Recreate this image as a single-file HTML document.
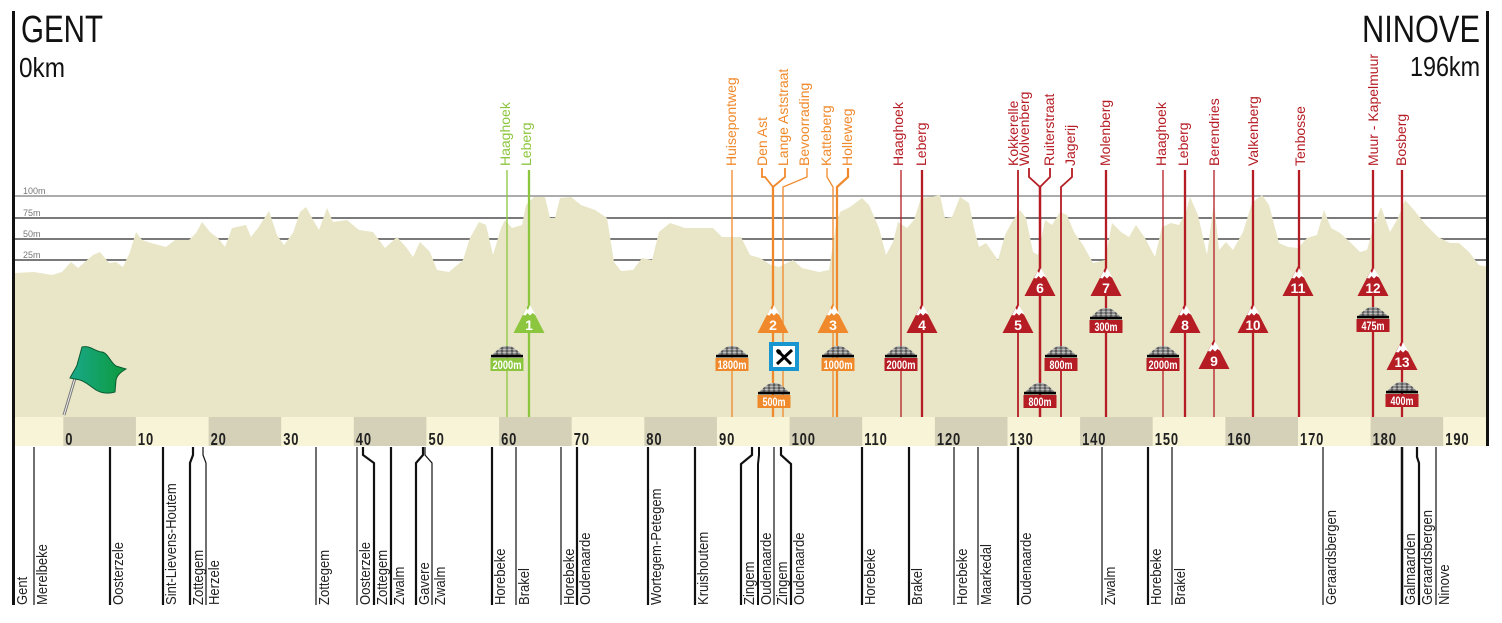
<!DOCTYPE html>
<html><head><meta charset="utf-8"><style>
html,body{margin:0;padding:0;background:#fff;}
svg{display:block;}
</style></head><body>
<svg width="1502" height="623" viewBox="0 0 1502 623" xmlns="http://www.w3.org/2000/svg" font-family="'Liberation Sans', sans-serif">
<defs>
<pattern id="cob" width="5" height="3" patternUnits="userSpaceOnUse"><rect width="5" height="3" fill="#555"/><ellipse cx="2.5" cy="1.5" rx="2" ry="1.1" fill="#bdbdbd"/></pattern>
<g id="dome"><path d="M-16,0 L-12,-5 L-7,-9 L-3,-11 L3,-11 L7,-9 L12,-5 L16,0Z" fill="url(#cob)"/><rect x="-16" y="-2.2" width="32" height="2.6" fill="#000"/></g>
<g id="tri"><path d="M0,0 L15.5,30 L-15.5,30Z"/><path d="M-6,12 L-2.5,5 L-1,7 L1,2 L5,9 L6.5,12 L3.5,10 L1,12.5 L-1.5,10 L-3.5,12.5Z" fill="#fff"/></g>
<linearGradient id="fg" x1="0" y1="0" x2="1" y2="0"><stop offset="0" stop-color="#1aa88a"/><stop offset="1" stop-color="#0c9a3c"/></linearGradient>
</defs>
<rect width="1502" height="623" fill="#fff"/>

<!-- grid lines -->
<line x1="15" y1="196" x2="1487" y2="196" stroke="#7a7a7a" stroke-width="1.3"/>
<line x1="15" y1="218" x2="1487" y2="218" stroke="#7a7a7a" stroke-width="2"/>
<line x1="15" y1="239" x2="1487" y2="239" stroke="#7a7a7a" stroke-width="2"/>
<line x1="15" y1="260" x2="1487" y2="260" stroke="#7a7a7a" stroke-width="2"/>

<!-- profile -->
<polygon fill="#e8e6c6" points="15,417 15,273 34,272 52,275 62,272 71,262 78,268 93,255 100,252 109,263 116,262 123,267 130,252 136,232 142,240 151,243 166,247 175,240 189,240 196,233 202,222 210,232 218,238 225,247 232,228 246,225 251,237 258,228 269,211 277,235 284,245 293,233 300,212 306,207 312,218 319,230 327,208 333,222 347,220 359,230 373,232 385,248 397,237 406,247 413,257 420,242 430,252 437,270 449,272 463,260 470,238 479,222 486,225 493,255 501,228 505,220 512,228 522,225 526,205 534,197 545,197 550,218 555,218 560,198 571,197 581,205 595,210 607,218 614,262 621,271 633,270 642,258 652,260 659,232 670,223 685,228 699,228 713,228 722,237 741,237 750,255 760,258 771,265 779,267 793,260 802,268 819,272 829,270 836,225 840,212 850,207 862,198 869,205 879,228 886,255 893,242 898,222 907,228 914,220 921,198 931,197 940,195 945,218 952,217 960,197 969,203 974,228 979,247 986,243 998,260 1005,235 1012,222 1020,210 1026,218 1033,252 1038,255 1045,220 1052,225 1060,212 1067,215 1074,232 1083,245 1093,263 1105,260 1112,223 1121,232 1129,237 1136,225 1145,238 1155,257 1162,227 1171,223 1179,225 1186,212 1190,197 1198,215 1207,255 1214,202 1219,250 1226,242 1233,250 1243,232 1252,203 1262,195 1269,205 1279,243 1288,247 1298,248 1307,238 1317,235 1324,210 1331,228 1340,233 1350,242 1360,252 1367,250 1374,225 1381,207 1390,232 1398,218 1405,200 1414,210 1426,225 1438,237 1450,243 1459,243 1469,252 1479,265 1488,267 1488,417"/>

<!-- grid labels -->
<g font-size="9" fill="#777">
<text x="23" y="194">100m</text>
<text x="23" y="216">75m</text>
<text x="23" y="237">50m</text>
<text x="23" y="258">25m</text>
</g>

<!-- titles -->
<text x="21" y="42" font-size="38" fill="#111" textLength="82" lengthAdjust="spacingAndGlyphs">GENT</text>
<text x="19" y="77" font-size="28" fill="#111" textLength="46" lengthAdjust="spacingAndGlyphs">0km</text>
<text x="1362" y="42" font-size="38" fill="#111" textLength="118" lengthAdjust="spacingAndGlyphs">NINOVE</text>
<text x="1410" y="76" font-size="28" fill="#111" textLength="70" lengthAdjust="spacingAndGlyphs">196km</text>

<!-- GREEN markers -->
<g stroke="#8cc63e" fill="none">
<line x1="507" y1="170" x2="507" y2="417" stroke-width="1.3"/>
<line x1="529" y1="170" x2="529" y2="417" stroke-width="2.3"/>
</g>
<g font-size="14" fill="#8cc63e">
<text transform="translate(510,166) rotate(-90)">Haaghoek</text>
<text transform="translate(531,166) rotate(-90)">Leberg</text>
</g>

<!-- ORANGE markers -->
<g stroke="#f0892b" fill="none">
<line x1="732" y1="170" x2="732" y2="417" stroke-width="1.3"/>
<path d="M762,168 V177 H765 L773,187" stroke-width="1.8"/>
<path d="M785,168 V177 L773,187" stroke-width="1.8"/>
<line x1="773" y1="186" x2="773" y2="417" stroke-width="2.3"/>
<path d="M807,168 V177 L783,187 V417" stroke-width="1.3"/>
<path d="M827,168 V177 L833,187 V417" stroke-width="1.3"/>
<path d="M848,168 V177 L837,187 V417" stroke-width="2.2"/>
</g>
<g font-size="14" fill="#f0892b">
<text transform="translate(736,166) rotate(-90)">Huisepontweg</text>
<text transform="translate(767,166) rotate(-90)">Den Ast</text>
<text transform="translate(788,166) rotate(-90)">Lange Aststraat</text>
<text transform="translate(809,166) rotate(-90)">Bevoorrading</text>
<text transform="translate(831,166) rotate(-90)">Katteberg</text>
<text transform="translate(852,166) rotate(-90)">Holleweg</text>
</g>

<!-- RED markers -->
<g stroke="#b51c24" fill="none">
<line x1="901" y1="170" x2="901" y2="417" stroke-width="1.3"/>
<line x1="922" y1="170" x2="922" y2="417" stroke-width="2.3"/>
<line x1="1018" y1="170" x2="1018" y2="417" stroke-width="1.8"/>
<path d="M1029,168 V177 L1040,187" stroke-width="1.8"/>
<path d="M1050,168 V177 L1040,187" stroke-width="1.8"/>
<line x1="1040" y1="186" x2="1040" y2="417" stroke-width="2.5"/>
<path d="M1072,168 V177 L1061,187 V417" stroke-width="1.8"/>
<line x1="1106" y1="170" x2="1106" y2="417" stroke-width="2.3"/>
<line x1="1163" y1="170" x2="1163" y2="417" stroke-width="1.3"/>
<line x1="1185" y1="170" x2="1185" y2="417" stroke-width="2.3"/>
<line x1="1214" y1="170" x2="1214" y2="417" stroke-width="1.3"/>
<line x1="1253" y1="170" x2="1253" y2="417" stroke-width="2.3"/>
<line x1="1299" y1="170" x2="1299" y2="417" stroke-width="2.3"/>
<line x1="1373" y1="170" x2="1373" y2="417" stroke-width="2.3"/>
<line x1="1402" y1="170" x2="1402" y2="417" stroke-width="2.3"/>
</g>
<g font-size="14" fill="#b51c24">
<text transform="translate(903,166) rotate(-90)">Haaghoek</text>
<text transform="translate(926,166) rotate(-90)">Leberg</text>
<text transform="translate(1018,166) rotate(-90)">Kokkerelle</text>
<text transform="translate(1029,166) rotate(-90)">Wolvenberg</text>
<text transform="translate(1054,166) rotate(-90)">Ruiterstraat</text>
<text transform="translate(1075,166) rotate(-90)">Jagerij</text>
<text transform="translate(1110,166) rotate(-90)">Molenberg</text>
<text transform="translate(1166,166) rotate(-90)">Haaghoek</text>
<text transform="translate(1188,166) rotate(-90)">Leberg</text>
<text transform="translate(1219,166) rotate(-90)">Berendries</text>
<text transform="translate(1258,166) rotate(-90)">Valkenberg</text>
<text transform="translate(1305,166) rotate(-90)">Tenbosse</text>
<text transform="translate(1378,166) rotate(-90)">Muur - Kapelmuur</text>
<text transform="translate(1406,166) rotate(-90)">Bosberg</text>
</g>

<!-- climb triangles -->
<use href="#tri" x="529" y="303" fill="#8cc63e"/>
<use href="#tri" x="773" y="303" fill="#f0892b"/>
<use href="#tri" x="833" y="303" fill="#f0892b"/>
<g fill="#b51c24">
<use href="#tri" x="922" y="303"/>
<use href="#tri" x="1018" y="303"/>
<use href="#tri" x="1040" y="266"/>
<use href="#tri" x="1106" y="266"/>
<use href="#tri" x="1185" y="303"/>
<use href="#tri" x="1214" y="339"/>
<use href="#tri" x="1253" y="303"/>
<use href="#tri" x="1298" y="266"/>
<use href="#tri" x="1373" y="266"/>
<use href="#tri" x="1402" y="340"/>
</g>
<g font-size="14" font-weight="bold" fill="#fff" text-anchor="middle">
<text x="529" y="330">1</text>
<text x="773" y="330">2</text>
<text x="833" y="330">3</text>
<text x="922" y="330">4</text>
<text x="1018" y="330">5</text>
<text x="1040" y="293">6</text>
<text x="1106" y="293">7</text>
<text x="1185" y="330">8</text>
<text x="1214" y="366">9</text>
<text x="1253" y="330" textLength="15" lengthAdjust="spacingAndGlyphs">10</text>
<text x="1298" y="293" textLength="15" lengthAdjust="spacingAndGlyphs">11</text>
<text x="1373" y="293" textLength="15" lengthAdjust="spacingAndGlyphs">12</text>
<text x="1402" y="367" textLength="15" lengthAdjust="spacingAndGlyphs">13</text>
</g>

<!-- cobbles -->
<use href="#dome" x="507" y="357"/>
<use href="#dome" x="732" y="357"/>
<use href="#dome" x="774" y="394"/>
<use href="#dome" x="838" y="357"/>
<use href="#dome" x="901" y="357"/>
<use href="#dome" x="1040" y="394"/>
<use href="#dome" x="1061" y="357"/>
<use href="#dome" x="1106" y="319"/>
<use href="#dome" x="1163" y="357"/>
<use href="#dome" x="1373" y="318"/>
<use href="#dome" x="1402" y="393"/>
<rect x="490.5" y="358" width="33" height="13" fill="#8cc63e"/>
<rect x="715.5" y="358" width="33" height="13" fill="#f0892b"/>
<rect x="757.5" y="395" width="33" height="13" fill="#f0892b"/>
<rect x="821.5" y="358" width="33" height="13" fill="#f0892b"/>
<g fill="#b51c24">
<rect x="884.5" y="358" width="33" height="13"/>
<rect x="1023.5" y="395" width="33" height="13"/>
<rect x="1044.5" y="358" width="33" height="13"/>
<rect x="1089.5" y="320" width="33" height="13"/>
<rect x="1146.5" y="358" width="33" height="13"/>
<rect x="1356.5" y="319" width="33" height="13"/>
<rect x="1385.5" y="394" width="33" height="13"/>
</g>
<g font-size="12" font-weight="bold" fill="#fff" text-anchor="middle" lengthAdjust="spacingAndGlyphs">
<text x="507" y="369" textLength="29" lengthAdjust="spacingAndGlyphs">2000m</text>
<text x="732" y="369" textLength="29" lengthAdjust="spacingAndGlyphs">1800m</text>
<text x="774" y="406" textLength="23" lengthAdjust="spacingAndGlyphs">500m</text>
<text x="838" y="369" textLength="29" lengthAdjust="spacingAndGlyphs">1000m</text>
<text x="901" y="369" textLength="29" lengthAdjust="spacingAndGlyphs">2000m</text>
<text x="1040" y="406" textLength="23" lengthAdjust="spacingAndGlyphs">800m</text>
<text x="1061" y="369" textLength="23" lengthAdjust="spacingAndGlyphs">800m</text>
<text x="1106" y="331" textLength="23" lengthAdjust="spacingAndGlyphs">300m</text>
<text x="1163" y="369" textLength="29" lengthAdjust="spacingAndGlyphs">2000m</text>
<text x="1373" y="330" textLength="23" lengthAdjust="spacingAndGlyphs">475m</text>
<text x="1402" y="405" textLength="23" lengthAdjust="spacingAndGlyphs">400m</text>
</g>

<!-- feed zone -->
<rect x="771" y="344" width="26" height="25" fill="#fff" stroke="#1996d2" stroke-width="4"/>
<path d="M777,350 L791,364 M792,350 L777,364" stroke="#000" stroke-width="3"/>
<ellipse cx="779" cy="352" rx="3.2" ry="2.2" transform="rotate(45 779 352)" fill="#000"/>

<!-- flag -->
<line x1="64" y1="415" x2="84" y2="348" stroke="#777" stroke-width="3"/>
<line x1="64" y1="415" x2="84" y2="348" stroke="#eee" stroke-width="1"/>
<path d="M82,347 C90,345 96,352 102,352 C108,353 110,362 116,366 L126,369 C121,372 117,375 116,380 L115,392 C108,394 101,393 96,390 C90,386 86,382 80,380 L70,378 C73,372 76,368 77,365 Z" fill="url(#fg)" stroke="#0b5a32" stroke-width="1"/>

<!-- km axis bar -->
<rect x="15" y="417" width="1471" height="29" fill="#f8f4d7"/>
<g fill="#d5d1b9">
<rect x="63.3" y="417" width="72.6" height="29"/>
<rect x="208.6" y="417" width="72.6" height="29"/>
<rect x="353.8" y="417" width="72.6" height="29"/>
<rect x="499.1" y="417" width="72.6" height="29"/>
<rect x="644.3" y="417" width="72.6" height="29"/>
<rect x="789.6" y="417" width="72.6" height="29"/>
<rect x="934.9" y="417" width="72.6" height="29"/>
<rect x="1080.1" y="417" width="72.6" height="29"/>
<rect x="1225.4" y="417" width="72.6" height="29"/>
<rect x="1370.6" y="417" width="72.6" height="29"/>
</g>
<g font-size="18" font-weight="bold" fill="#222" letter-spacing="1.2">
<text transform="translate(65.3,445) scale(0.72,1)">0</text>
<text transform="translate(137.9,445) scale(0.72,1)">10</text>
<text transform="translate(210.6,445) scale(0.72,1)">20</text>
<text transform="translate(283.2,445) scale(0.72,1)">30</text>
<text transform="translate(355.8,445) scale(0.72,1)">40</text>
<text transform="translate(428.5,445) scale(0.72,1)">50</text>
<text transform="translate(501.1,445) scale(0.72,1)">60</text>
<text transform="translate(573.7,445) scale(0.72,1)">70</text>
<text transform="translate(646.3,445) scale(0.72,1)">80</text>
<text transform="translate(719,445) scale(0.72,1)">90</text>
<text transform="translate(791.6,445) scale(0.72,1)">100</text>
<text transform="translate(864.2,445) scale(0.72,1)">110</text>
<text transform="translate(936.9,445) scale(0.72,1)">120</text>
<text transform="translate(1009.5,445) scale(0.72,1)">130</text>
<text transform="translate(1082.1,445) scale(0.72,1)">140</text>
<text transform="translate(1154.8,445) scale(0.72,1)">150</text>
<text transform="translate(1227.4,445) scale(0.72,1)">160</text>
<text transform="translate(1300,445) scale(0.72,1)">170</text>
<text transform="translate(1372.6,445) scale(0.72,1)">180</text>
<text transform="translate(1445.3,445) scale(0.72,1)">190</text>
</g>

<!-- axes -->
<line x1="13.5" y1="11" x2="13.5" y2="605" stroke="#111" stroke-width="3"/>
<line x1="1487.5" y1="11" x2="1487.5" y2="446" stroke="#111" stroke-width="3"/>

<!-- bottom place lines -->
<g stroke="#111" fill="none">
<line x1="34" y1="447" x2="34" y2="605" stroke-width="1.2"/>
<line x1="110" y1="447" x2="110" y2="605" stroke-width="2.2"/>
<line x1="163" y1="447" x2="163" y2="605" stroke-width="2.2"/>
<path d="M193,447 V455 L190,463 V605" stroke-width="2.2"/>
<path d="M203,447 V455 L206,463 V605" stroke-width="1.2"/>
<line x1="316" y1="447" x2="316" y2="605" stroke-width="1.2"/>
<line x1="357" y1="447" x2="357" y2="605" stroke-width="1.2"/>
<path d="M363,447 V455 L374,463 V605" stroke-width="2.2"/>
<line x1="391" y1="447" x2="391" y2="605" stroke-width="2.2"/>
<path d="M423,447 V455 L416,463 V605" stroke-width="2.2"/>
<path d="M425,447 V455 L432,463 V605" stroke-width="1.2"/>
<line x1="492" y1="447" x2="492" y2="605" stroke-width="2.2"/>
<line x1="516" y1="447" x2="516" y2="605" stroke-width="1.2"/>
<line x1="561" y1="447" x2="561" y2="605" stroke-width="1.2"/>
<line x1="577" y1="447" x2="577" y2="605" stroke-width="2.2"/>
<line x1="648" y1="447" x2="648" y2="605" stroke-width="2.2"/>
<line x1="695" y1="447" x2="695" y2="605" stroke-width="2.2"/>
<path d="M752,447 V455 L741,464 V605" stroke-width="2.2"/>
<path d="M759,447 V455 L758,464 V605" stroke-width="2"/>
<path d="M774,447 V605" stroke-width="1.2"/>
<path d="M781,447 V455 L791,464 V605" stroke-width="2.2"/>
<line x1="862" y1="447" x2="862" y2="605" stroke-width="2.2"/>
<line x1="909" y1="447" x2="909" y2="605" stroke-width="2.2"/>
<line x1="954" y1="447" x2="954" y2="605" stroke-width="1.2"/>
<line x1="978" y1="447" x2="978" y2="605" stroke-width="1.2"/>
<line x1="1018" y1="447" x2="1018" y2="605" stroke-width="2.2"/>
<line x1="1102" y1="447" x2="1102" y2="605" stroke-width="1.2"/>
<line x1="1148" y1="447" x2="1148" y2="605" stroke-width="2.2"/>
<line x1="1172" y1="447" x2="1172" y2="605" stroke-width="1.2"/>
<line x1="1323" y1="447" x2="1323" y2="605" stroke-width="1.2"/>
<line x1="1402" y1="447" x2="1402" y2="605" stroke-width="2.5"/>
<path d="M1417,447 V457 L1419,463 V605" stroke-width="2.2"/>
<line x1="1436" y1="447" x2="1436" y2="605" stroke-width="1.2"/>
</g>
<g font-size="15" fill="#222">
<text transform="translate(27,605) rotate(-90) scale(0.87,1)">Gent</text>
<text transform="translate(47,605) rotate(-90) scale(0.87,1)">Merelbeke</text>
<text transform="translate(123,605) rotate(-90) scale(0.87,1)">Oosterzele</text>
<text transform="translate(176,605) rotate(-90) scale(0.87,1)">Sint-Lievens-Houtem</text>
<text transform="translate(203,605) rotate(-90) scale(0.87,1)">Zottegem</text>
<text transform="translate(219,605) rotate(-90) scale(0.87,1)">Herzele</text>
<text transform="translate(329,605) rotate(-90) scale(0.87,1)">Zottegem</text>
<text transform="translate(370,605) rotate(-90) scale(0.87,1)">Oosterzele</text>
<text transform="translate(387,605) rotate(-90) scale(0.87,1)">Zottegem</text>
<text transform="translate(404,605) rotate(-90) scale(0.87,1)">Zwalm</text>
<text transform="translate(429,605) rotate(-90) scale(0.87,1)">Gavere</text>
<text transform="translate(445,605) rotate(-90) scale(0.87,1)">Zwalm</text>
<text transform="translate(505,605) rotate(-90) scale(0.87,1)">Horebeke</text>
<text transform="translate(529,605) rotate(-90) scale(0.87,1)">Brakel</text>
<text transform="translate(574,605) rotate(-90) scale(0.87,1)">Horebeke</text>
<text transform="translate(590,605) rotate(-90) scale(0.87,1)">Oudenaarde</text>
<text transform="translate(661,605) rotate(-90) scale(0.87,1)">Wortegem-Petegem</text>
<text transform="translate(708,605) rotate(-90) scale(0.87,1)">Kruishoutem</text>
<text transform="translate(754,605) rotate(-90) scale(0.87,1)">Zingem</text>
<text transform="translate(771,605) rotate(-90) scale(0.87,1)">Oudenaarde</text>
<text transform="translate(787,605) rotate(-90) scale(0.87,1)">Zingem</text>
<text transform="translate(804,605) rotate(-90) scale(0.87,1)">Oudenaarde</text>
<text transform="translate(875,605) rotate(-90) scale(0.87,1)">Horebeke</text>
<text transform="translate(922,605) rotate(-90) scale(0.87,1)">Brakel</text>
<text transform="translate(967,605) rotate(-90) scale(0.87,1)">Horebeke</text>
<text transform="translate(991,605) rotate(-90) scale(0.87,1)">Maarkedal</text>
<text transform="translate(1031,605) rotate(-90) scale(0.87,1)">Oudenaarde</text>
<text transform="translate(1115,605) rotate(-90) scale(0.87,1)">Zwalm</text>
<text transform="translate(1161,605) rotate(-90) scale(0.87,1)">Horebeke</text>
<text transform="translate(1185,605) rotate(-90) scale(0.87,1)">Brakel</text>
<text transform="translate(1336,605) rotate(-90) scale(0.87,1)">Geraardsbergen</text>
<text transform="translate(1415,605) rotate(-90) scale(0.87,1)">Galmaarden</text>
<text transform="translate(1432,605) rotate(-90) scale(0.87,1)">Geraardsbergen</text>
<text transform="translate(1449,605) rotate(-90) scale(0.87,1)">Ninove</text>
</g>
</svg>
</body></html>
